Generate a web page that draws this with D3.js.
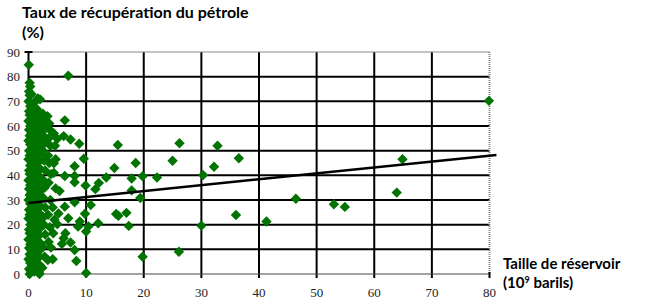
<html>
<head>
<meta charset="utf-8">
<script src="https://d3js.org/d3.v7.min.js"></script>
<style>
  body { margin: 0; background: #fff; }
  .title { font-family: Lato, "Open Sans", sans-serif; font-weight: 700; font-size: 16px; fill: #000; }
  .axislabel { font-family: Lato, "Open Sans", sans-serif; font-weight: 700; font-size: 15px; fill: #000; }
  .tick { font-family: "Liberation Serif", "Times New Roman", serif; font-size: 13px; fill: #222; }
  line.grid { stroke: #000; stroke-width: 2; }
  line.border { stroke: #888; stroke-width: 2; stroke-dasharray: 1 1; }
</style>
</head>
<body>
<svg id="chart"></svg>
<script>
var W = 652, H = 304;

var xTicks = [0, 10, 20, 30, 40, 50, 60, 70, 80];
var yTicks = [0, 10, 20, 30, 40, 50, 60, 70, 80, 90];

// gisements : [taille (10^9 barils), taux de recuperation (%)]
var clusterPoints = [
  [0.2,0],[0.1,2],[0.3,4.5],[0,6],[0.2,8],[0.1,10.5],[0.3,12],[0,14],[0.2,16.5],[0.1,18],
  [0.3,20],[0,22.5],[0.2,24],[0.1,26],[0.3,28.5],[0,30],[0.2,32],[0.1,34.5],[0.3,36],[0,38],
  [0.2,40.5],[0.1,42],[0.3,44],[0,46.5],[0.2,48],[0.1,50],[0.3,52.5],[0,54],[0.2,56],[0.1,58.5],
  [0.3,60],[0,62],[0.2,64.5],[0.1,66],[0.3,68],[0,70],[0.2,72.5],[0.1,74],[0.3,76],[0.2,77.5],
  [0.5,1],[0.6,5.5],[0.5,9.5],[0.6,13],[0.5,17.5],[0.6,21.5],[0.5,25],[0.6,29.5],[0.5,33],
  [0.6,37],[0.5,41],[0.6,45],[0.5,49],[0.6,53],[0.5,57],[0.6,61],[0.5,65],[0.6,69],[0.5,73],
  [1,1],[0.9,3],[1.1,5],[0.8,7.5],[1,9],[1.2,11],[0.9,13.5],[1.1,15],[0.8,17],[1,19.5],
  [1.2,21],[0.9,23],[1.1,25.5],[0.8,27],[1,29],[1.2,31.5],[0.9,33],[1.1,35],[0.8,37.5],[1,39],
  [1.2,41],[0.9,43.5],[1.1,45],[0.8,47],[1,49.5],[1.2,51],[0.9,53],[1.1,55.5],[0.8,57],[1,59],
  [1.2,61.5],[0.9,63],[1.1,65],[0.8,67.5],[1,69.5],[1.6,71.2],[2.0,70.8],
  [1.4,2.5],[1.5,8],[1.4,13],[1.5,17],[1.4,23],[1.5,26],[1.4,32],[1.5,38],[1.4,43.5],
  [1.5,47],[1.4,52],[1.5,56],[1.4,59.5],[1.5,63],[1.4,67],
  [1.8,0.5],[2,3.5],[1.7,6.5],[1.9,9.5],[2.1,12.5],[1.8,15.5],[2,18.5],[1.7,21.5],[1.9,24.5],
  [2.1,27.5],[1.8,30.5],[2,33.5],[1.7,36.5],[1.9,39.5],[2.1,42.5],[1.8,45.5],[2,48.5],[1.7,51.5],
  [1.9,54.5],[2.1,57.5],[1.8,60.5],[2,63.5],[1.7,66],
  [2.4,2.5],[2.8,7],[2.5,11],[2.9,16],[2.7,20],[2.6,23],[2.9,27],[2.5,31],[2.8,35],[2.6,38],
  [2.9,42],[2.7,46],[2.5,50],[2.8,53],[2.6,56],[2.9,59],[2.7,62],[2.5,65],
  [3.5,13],[3.7,19],[3.4,24],[3.8,30],[3.5,37],[3.9,40.5],[3.6,45],[3.4,48],[3.8,52],[3.5,55],
  [3.9,58],[3.6,61],[3.3,64],
  [4.6,52],[5.0,54.8],[4.4,57],[4.2,27],[4.5,22],[5.2,24.5],[5.0,20.2],[4.3,16.5],[3.35,5.7],
  [4.4,41],[4.7,46.5]
];

var outlierPoints = [
  [0.05,84.8],[6.9,80.4],[6.3,62.3],[6.1,55.9],[7.3,54.5],[8.8,52.8],[9.6,46.7],[15.5,52.3],
  [26.2,53],[32.8,52],[25.0,45.9],[18.6,45],[36.5,46.9],[14.9,43],[32.2,43.5],[13.5,39.1],
  [17.9,38.7],[19.8,39.6],[22.3,39.1],[30.3,40.1],[12.2,36.9],[9.9,35.9],[11.6,34.4],[17.9,33.9],
  [19.4,30.8],[46.4,30.5],[15.2,24.3],[15.6,23.6],[17.0,24.8],[36.0,23.9],[12.1,20.6],[17.4,19.5],
  [30.0,19.6],[41.3,21.3],[19.8,7.0],[26.1,9.0],[64.9,46.5],[53.0,28.3],[54.9,27.2],[63.9,33.0],
  [79.9,70.2],[10.0,0.4],[4.4,44.9],[8.0,43.7],[6.3,39.7],[8.0,39.7],[8.0,37.2],[5.4,33.6],
  [4.7,34.7],[6.3,27.3],[8.0,29.1],[10.8,28.0],[6.9,22.6],[9.8,24.4],[8.9,21.3],[8.6,19.2],
  [10.4,19.3],[10.0,17.2],[6.1,14.5],[5.8,12.2],[7.3,12.8],[8.0,9.7],[8.3,5.3],[3.9,10.7],
  [4.2,6.0],[1.9,0],[6.4,16.5]
];

// droite de tendance lineaire
var trendIntercept = 28.8;
var trendSlope = 0.24;
var trendRange = [0, 81.2];

var svg = d3.select("#chart").attr("width", W).attr("height", H);

var x = d3.scaleLinear().domain([0, 80]).range([28.5, 489.5]);
var y = d3.scaleLinear().domain([0, 90]).range([274, 52]);

// grille
svg.selectAll(".hgrid")
  .data(yTicks.filter(function(d){ return d > 0 && d < 90; }))
  .enter().append("line").attr("class", "grid")
    .attr("x1", x(0)).attr("x2", x(80))
    .attr("y1", function(d){ return y(d); }).attr("y2", function(d){ return y(d); });

svg.selectAll(".vgrid")
  .data(xTicks.filter(function(d){ return d > 0 && d < 80; }))
  .enter().append("line").attr("class", "grid")
    .attr("x1", function(d){ return x(d); }).attr("x2", function(d){ return x(d); })
    .attr("y1", y(90)).attr("y2", y(0) + 4);

// bordures
svg.append("line").attr("class", "border")
  .attr("x1", x(0)).attr("x2", x(80)).attr("y1", y(90)).attr("y2", y(90));
svg.append("line").attr("class", "border")
  .attr("x1", x(80)).attr("x2", x(80)).attr("y1", y(90)).attr("y2", y(0));
svg.append("line").attr("class", "border").style("stroke", "#444")
  .attr("x1", x(0)).attr("x2", x(80)).attr("y1", y(0)).attr("y2", y(0));
svg.append("line").attr("class", "grid")
  .attr("x1", x(0)).attr("x2", x(0)).attr("y1", y(90) - 1).attr("y2", y(0) + 4);
svg.append("line").attr("class", "grid")
  .attr("x1", x(0) - 4).attr("x2", x(0) + 4).attr("y1", y(90)).attr("y2", y(90));
svg.append("line").attr("class", "grid")
  .attr("x1", x(80)).attr("x2", x(80)).attr("y1", y(0) - 2).attr("y2", y(0) + 4);

// etiquettes des axes
svg.selectAll(".ylab")
  .data(yTicks)
  .enter().append("text").attr("class", "tick")
    .attr("x", 20).attr("y", function(d){ return y(d); })
    .attr("dy", "0.35em").attr("text-anchor", "end")
    .text(function(d){ return d; });

svg.selectAll(".xlab")
  .data(xTicks)
  .enter().append("text").attr("class", "tick")
    .attr("x", function(d){ return x(d); }).attr("y", 292)
    .attr("dy", "0.35em").attr("text-anchor", "middle")
    .text(function(d){ return d; });

// points
var diamond = "M0,-5.2L5.2,0L0,5.2L-5.2,0Z";
svg.append("g").selectAll("path")
  .data(clusterPoints.concat(outlierPoints))
  .enter().append("path")
    .attr("d", diamond)
    .attr("fill", "#007300")
    .attr("transform", function(d){ return "translate(" + x(d[0]) + "," + y(d[1]) + ")"; });

// tendance
svg.append("line")
  .attr("x1", x(trendRange[0])).attr("y1", y(trendIntercept + trendSlope * trendRange[0]))
  .attr("x2", x(trendRange[1])).attr("y2", y(trendIntercept + trendSlope * trendRange[1]))
  .attr("stroke", "#000").attr("stroke-width", 2.5);

// titres
svg.append("text").attr("class", "title").attr("x", 22).attr("y", 18)
  .text("Taux de récupération du pétrole");
svg.append("text").attr("class", "title").attr("x", 22).attr("y", 38)
  .text("(%)");

var xl = svg.append("text").attr("class", "axislabel").attr("x", 503).attr("y", 269);
xl.text("Taille de réservoir");
var xl2 = svg.append("text").attr("class", "axislabel").attr("x", 503).attr("y", 288);
xl2.append("tspan").text("(10");
xl2.append("tspan").attr("font-size", "9px").attr("dy", "-5").text("9");
xl2.append("tspan").attr("dy", "5").text(" barils)");
</script>
</body>
</html>
